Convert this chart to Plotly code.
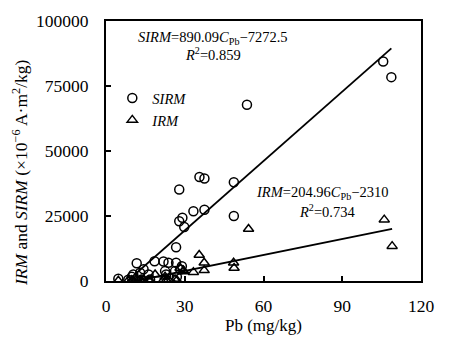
import plotly.graph_objects as go

# SIRM samples (Pb mg/kg, SIRM)
sirm_pb = [4.7, 8.5, 9.8, 10.4, 11.7, 13.0, 13.6, 14.3, 16.2, 16.8, 18.5, 21.9, 22.5, 22.9,
           23.8, 26.3, 26.7, 26.7, 27.0, 27.9, 27.9, 28.3, 28.9, 29.1, 29.8, 33.3, 35.6,
           37.5, 37.5, 48.7, 48.7, 53.7, 105.6, 108.7]
sirm_val = [900, 500, 1600, 2500, 6800, 3200, 600, 4500, 2500, 600, 7600, 7500, 3800, 2500,
            7000, 3800, 7000, 13000, 1600, 35200, 23000, 4400, 5700, 24300, 20800, 26800, 40000,
            39400, 27400, 38000, 25000, 67800, 84400, 78400]

# IRM samples (Pb mg/kg, IRM)
irm_pb = [4.7, 8.5, 9.8, 10.4, 11.7, 13.0, 13.6, 14.3, 16.2, 16.8, 18.7, 21.9, 22.5, 22.9,
          23.8, 26.3, 27.0, 28.2, 29.5, 29.5, 33.3, 35.5, 37.4, 37.4, 48.6, 48.8, 54.3,
          106.0, 109.0]
irm_val = [100, 200, 300, 200, 800, 300, 200, 400, 300, 200, 2500, 400, 1600, 300,
           500, 600, 300, 5000, 4000, 3700, 3400, 10000, 7000, 4100, 7000, 5000, 20000,
           23600, 13400]

# regression coefficients
sirm_slope, sirm_icpt = 890.09, -7272.5
irm_slope, irm_icpt = 204.96, -2310.0

x_ticks = [0, 30, 60, 90, 120]
y_ticks = [0, 25000, 50000, 75000, 100000]
y_tick_text = ["0", "25000", "50000", "75000", "100000"]

FONT = "Times New Roman, Liberation Serif, serif"

fig = go.Figure()
fig.add_trace(go.Scatter(x=sirm_pb, y=sirm_val, mode="markers", name="<i>SIRM</i>",
                         marker=dict(symbol="circle-open", size=9, color="black",
                                     line=dict(width=1.5, color="black"))))
fig.add_trace(go.Scatter(x=irm_pb, y=irm_val, mode="markers", name="<i>IRM</i>",
                         marker=dict(symbol="triangle-up-open", size=9, color="black",
                                     line=dict(width=1.5, color="black"))))

sx = [-sirm_icpt / sirm_slope, max(sirm_pb)]
fig.add_trace(go.Scatter(x=sx, y=[sirm_slope * v + sirm_icpt for v in sx], mode="lines",
                         line=dict(color="black", width=1.8), showlegend=False))
ix = [-irm_icpt / irm_slope, max(irm_pb)]
fig.add_trace(go.Scatter(x=ix, y=[irm_slope * v + irm_icpt for v in ix], mode="lines",
                         line=dict(color="black", width=1.8), showlegend=False))

ann_font = dict(family=FONT, size=14.5, color="black")
common_ann = dict(xref="paper", yref="paper", showarrow=False, yanchor="middle")
fig.add_annotation(x=0.34, y=0.936, xanchor="center", font=ann_font,
                   text="<i>SIRM</i>=890.09<i>C</i><sub>Pb</sub>−7272.5", **common_ann)
fig.add_annotation(x=0.34, y=0.875, xanchor="center", font=ann_font,
                   text="<i>R</i><sup>2</sup>=0.859", **common_ann)
fig.add_annotation(x=0.902, y=0.338, xanchor="right", font=ann_font,
                   text="<i>IRM</i>=204.96<i>C</i><sub>Pb</sub>−2310", **common_ann)
fig.add_annotation(x=0.70, y=0.27, xanchor="center", font=ann_font,
                   text="<i>R</i><sup>2</sup>=0.734", **common_ann)
fig.add_annotation(x=-0.273, y=0.415, xanchor="center", textangle=-90,
                   text="<i>IRM</i> and <i>SIRM</i> (×10<sup>−6</sup> A·m<sup>2</sup>/kg)",
                   font=dict(family=FONT, size=17.5, color="black"), **common_ann)

axis_common = dict(showgrid=False, zeroline=False, showline=True, linecolor="black",
                   linewidth=1.8, mirror=True, ticks="inside", ticklen=5, tickwidth=1.5,
                   tickcolor="black", tickfont=dict(family=FONT, size=17.5, color="black"))
fig.update_xaxes(range=[0, 120], tickvals=x_ticks, ticklabelstandoff=8,
                 title=dict(text="Pb (mg/kg)", font=dict(family=FONT, size=17, color="black"),
                            standoff=4), **axis_common)
fig.update_yaxes(range=[0, 100000], tickvals=y_ticks, ticktext=y_tick_text,
                 ticklabelstandoff=12, **axis_common)

# page body adds an 8px offset, so the figure is sized to fit the 462x341 window
fig.update_layout(width=454, height=333,
                  margin=dict(l=98, r=41, t=13, b=60, autoexpand=False),
                  plot_bgcolor="white", paper_bgcolor="white",
                  legend=dict(x=0.02, y=0.765, xanchor="left", yanchor="top",
                              bgcolor="rgba(0,0,0,0)", tracegroupgap=0,
                              font=dict(family=FONT, size=14.5, color="black"),
                              itemwidth=30))
fig.write_html("out.html")
